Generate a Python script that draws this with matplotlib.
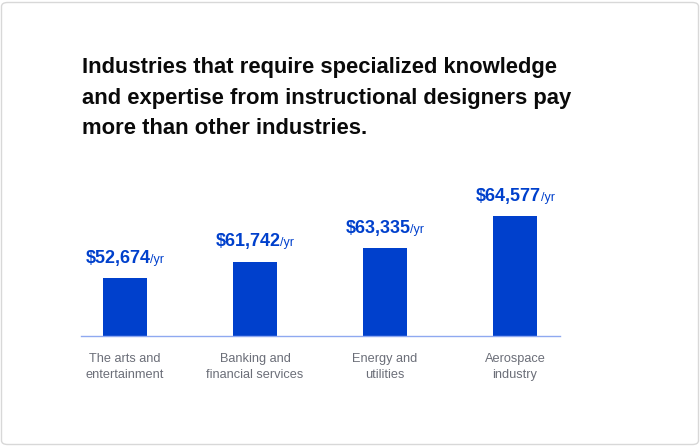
import matplotlib.pyplot as plt
from matplotlib.patches import FancyBboxPatch
from matplotlib.offsetbox import TextArea, HPacker, AnnotationBbox

plt.rcParams['font.family'] = ['Liberation Sans', 'DejaVu Sans']

# data
industries = ["The arts and\nentertainment", "Banking and\nfinancial services",
              "Energy and\nutilities", "Aerospace\nindustry"]
salaries = [52674, 61742, 63335, 64577]
# bar heights as drawn (relative, aerospace = 100) - the original chart is not to scale
bar_heights = [48, 62, 73, 100]

title = ("Industries that require specialized knowledge\n"
         "and expertise from instructional designers pay\n"
         "more than other industries.")

blue = "#0040CC"
W, H = 700, 446

fig = plt.figure(figsize=(W / 100, H / 100), dpi=100)
fig.patch.set_facecolor("white")

# card background
card = FancyBboxPatch((1.5 / W, 1.5 / H), (W - 3) / W, (H - 4) / H,
                      boxstyle="round,pad=0,rounding_size=0.009",
                      transform=fig.transFigure, facecolor="white",
                      edgecolor="#d8d8d8", linewidth=1.0, zorder=-5)
fig.patches.append(card)

fig.text(82 / W, 1 - 57 / H, title, ha="left", va="top", fontsize=15.8,
         fontweight="bold", color="#0a0a0a", linespacing=1.6)

ax = fig.add_axes([81 / W, 110 / H, 479 / W, 186 / H])
ax.patch.set_alpha(0)
x = list(range(len(industries)))
ax.bar(x, bar_heights, width=0.34, color=blue)
ax.set_xlim(-0.338, 3.346)
ax.set_ylim(0, 155)

for s in ["top", "right", "left"]:
    ax.spines[s].set_visible(False)
ax.spines["bottom"].set_color("#8fa9f0")
ax.spines["bottom"].set_linewidth(1.0)
ax.set_yticks([])
ax.set_xticks(x)
ax.set_xticklabels(industries, fontsize=9.2, color="#6b6e78", linespacing=1.45)
ax.tick_params(axis="x", length=0, pad=12)

for xi, h, v in zip(x, bar_heights, salaries):
    main = TextArea(f"${v:,}", textprops=dict(fontsize=13, fontweight="bold", color=blue))
    unit = TextArea("/yr", textprops=dict(fontsize=9, color=blue))
    box = HPacker(children=[main, unit], align="baseline", pad=0, sep=0)
    ab = AnnotationBbox(box, (xi, h), xybox=(0, 8), xycoords="data",
                        boxcoords="offset points", box_alignment=(0.5, 0),
                        frameon=False)
    ax.add_artist(ab)

fig.savefig("out.png", dpi=100)
